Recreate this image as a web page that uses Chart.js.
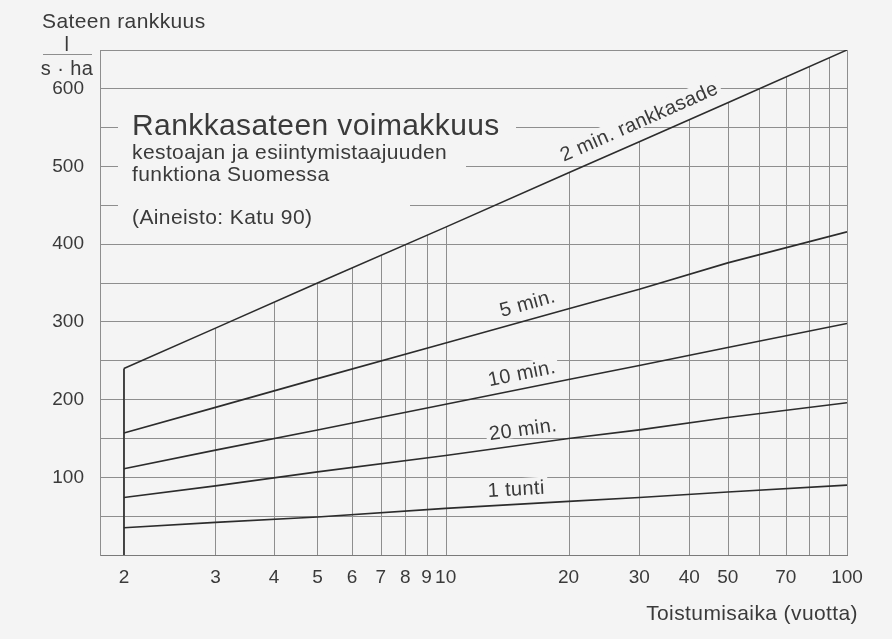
<!DOCTYPE html>
<html>
<head>
<meta charset="utf-8">
<script src="https://cdn.jsdelivr.net/npm/chart.js@4"></script>
<style>
  html, body { margin: 0; padding: 0; background: #f4f4f4; }
  #wrap { width: 892px; height: 639px; }
</style>
</head>
<body>
<div id="wrap"><canvas id="rain" width="892" height="639"></canvas></div>
<script>
// return period (years) and rain intensity (l / s·ha)
const returnPeriods = [2, 3, 5, 10, 20, 30, 50, 100];
const rain2min  = [240, 292, 350, 422, 492, 532, 582, 650];
const rain5min  = [157, 190, 227, 273, 317, 342, 376, 416];
const rain10min = [111, 135, 161, 194, 226, 244, 267, 298];
const rain20min = [74, 89, 107, 128, 150, 161, 177, 196];
const rain1h    = [35, 42, 49, 60, 69, 74, 81, 90];
const seriesNames = ['2 min.', '5 min.', '10 min.', '20 min.', '1 tunti'];

const gridPeriods = [2, 3, 4, 5, 6, 7, 8, 9, 10, 20, 30, 40, 50, 60, 70, 80, 90, 100];
const xTickLabels = [2, 3, 4, 5, 6, 7, 8, 9, 10, 20, 30, 40, 50, 70, 100];
const yTickLabels = [100, 200, 300, 400, 500, 600];

const BG = '#f4f4f4';
const INK = '#3a3a3a';
const LINE = '#2c2c2c';
const GRID = '#8e8e8e';
const FONT = '"Liberation Sans", Arial, sans-serif';

// the time axis is drawn on Gumbel (extreme value) paper
const gumbel = T => -Math.log(-Math.log(1 - 1 / T));

// labels written along the curves: series index, return period where the text starts, lift above line
const curveLabels = [
  { text: '2 min. rankkasade', series: 0, at: 20, lift: 12 },
  { text: '5 min.', series: 1, at: 13.9, lift: 10 },
  { text: '10 min.', series: 2, at: 12.9, lift: 9 },
  { text: '20 min.', series: 3, at: 12.9, lift: 9 },
  { text: '1 tunti', series: 4, at: 12.7, lift: 9 },
];

const titleLines = [
  { text: 'Rankkasateen voimakkuus', size: 30, y: 135 },
  { text: 'kestoajan ja esiintymistaajuuden', size: 21, y: 159 },
  { text: 'funktiona Suomessa', size: 21, y: 181 },
  { text: '(Aineisto: Katu 90)', size: 21, y: 224 },
];
// gaps cut into the horizontal grid by the title block
const titleMasks = [
  [118, 108, 516, 146],
  [118, 146, 466, 190],
  [118, 190, 410, 232],
];

function toPoints(values) {
  return returnPeriods.map((T, i) => ({ x: gumbel(T), y: values[i] }));
}

function curveAt(points, px) {
  for (let i = 0; i < points.length - 1; i++) {
    const a = points[i], b = points[i + 1];
    if (px >= a.x && px <= b.x) {
      const t = (px - a.x) / (b.x - a.x);
      return { y: a.y + t * (b.y - a.y), angle: Math.atan2(b.y - a.y, b.x - a.x) };
    }
  }
  const a = points[points.length - 2], b = points[points.length - 1];
  return { y: b.y, angle: Math.atan2(b.y - a.y, b.x - a.x) };
}

const paperPlugin = {
  id: 'paper',
  beforeDatasetsDraw(chart) {
    const { ctx, chartArea: area, scales } = chart;
    const xs = scales.x;
    const top = chart.getDatasetMeta(0).data;

    // vertical grid only below the 2 min curve
    ctx.save();
    ctx.beginPath();
    ctx.moveTo(top[0].x, area.bottom);
    top.forEach(p => ctx.lineTo(p.x, p.y));
    ctx.lineTo(top[top.length - 1].x, area.bottom);
    ctx.closePath();
    ctx.clip();
    ctx.strokeStyle = GRID;
    ctx.lineWidth = 1;
    gridPeriods.forEach(T => {
      const px = Math.round(xs.getPixelForValue(gumbel(T))) + 0.5;
      ctx.beginPath();
      ctx.moveTo(px, area.top);
      ctx.lineTo(px, area.bottom);
      ctx.stroke();
    });
    ctx.restore();

    // right frame
    ctx.save();
    ctx.strokeStyle = GRID;
    ctx.lineWidth = 1;
    ctx.beginPath();
    ctx.moveTo(Math.round(area.right) + 0.5, area.top);
    ctx.lineTo(Math.round(area.right) + 0.5, area.bottom);
    ctx.stroke();

    // title block
    ctx.letterSpacing = '0.4px';
    ctx.fillStyle = BG;
    titleMasks.forEach(([x1, y1, x2, y2]) => ctx.fillRect(x1, y1, x2 - x1, y2 - y1));
    ctx.fillStyle = INK;
    ctx.textAlign = 'left';
    ctx.textBaseline = 'alphabetic';
    titleLines.forEach(l => {
      ctx.font = l.size + 'px ' + FONT;
      ctx.fillText(l.text, 132, l.y);
    });

    // curve labels
    ctx.font = '20px ' + FONT;
    curveLabels.forEach(l => {
      const pts = chart.getDatasetMeta(l.series).data;
      const px = xs.getPixelForValue(gumbel(l.at));
      const c = curveAt(pts, px);
      const w = ctx.measureText(l.text).width;
      ctx.save();
      ctx.translate(px, c.y);
      ctx.rotate(c.angle);
      ctx.fillStyle = BG;
      ctx.fillRect(-3, -l.lift - 17, w + 6, 18);
      ctx.fillStyle = INK;
      ctx.fillText(l.text, 0, -l.lift);
      ctx.restore();
    });

    // axis titles
    ctx.font = '21px ' + FONT;
    ctx.fillText('Sateen rankkuus', 42, 28);
    ctx.textAlign = 'right';
    ctx.fillText('Toistumisaika (vuotta)', 858, 620);
    ctx.font = '20px ' + FONT;
    ctx.textAlign = 'center';
    ctx.fillText('l', 67, 51);
    ctx.fillText('s · ha', 67, 75);
    ctx.beginPath();
    ctx.moveTo(43, 54.5);
    ctx.lineTo(92, 54.5);
    ctx.stroke();
    ctx.restore();
  },
  afterDatasetsDraw(chart) {
    // the 2 min curve drops to the axis at its first point
    const { ctx, chartArea: area } = chart;
    const p = chart.getDatasetMeta(0).data[0];
    ctx.save();
    ctx.strokeStyle = LINE;
    ctx.lineWidth = 1.6;
    ctx.beginPath();
    ctx.moveTo(p.x, p.y);
    ctx.lineTo(p.x, area.bottom);
    ctx.stroke();
    ctx.restore();
  }
};

Chart.defaults.font.family = FONT;
Chart.defaults.color = INK;

const allSeries = [rain2min, rain5min, rain10min, rain20min, rain1h];

new Chart(document.getElementById('rain'), {
  type: 'line',
  data: {
    datasets: allSeries.map((values, i) => ({
      label: seriesNames[i],
      data: toPoints(values),
      borderColor: LINE,
      borderWidth: 1.6,
      pointRadius: 0,
      tension: 0,
      fill: false,
    }))
  },
  options: {
    responsive: false,
    animation: false,
    layout: { padding: { top: 50, right: 45, bottom: 0, left: 0 } },
    plugins: { legend: { display: false }, tooltip: { enabled: false } },
    scales: {
      x: {
        type: 'linear',
        min: gumbel(2) - 0.14,
        max: gumbel(100),
        afterFit: s => { s.height = 84; },
        afterBuildTicks: s => { s.ticks = xTickLabels.map(T => ({ value: gumbel(T) })); },
        grid: { display: false, drawTicks: false },
        border: { display: true, color: '#7a7a7a', width: 1 },
        ticks: {
          autoSkip: false,
          maxRotation: 0,
          padding: 11,
          font: { size: 19 },
          color: INK,
          callback: (v, i) => xTickLabels[i]
        }
      },
      y: {
        min: 0,
        max: 650,
        afterFit: s => { s.width = 100; },
        grid: { color: GRID, lineWidth: 1, drawTicks: false },
        border: { display: true, color: GRID, width: 1 },
        ticks: {
          stepSize: 50,
          padding: 16,
          font: { size: 19 },
          color: INK,
          callback: v => yTickLabels.includes(v) ? v : ''
        }
      }
    }
  },
  plugins: [paperPlugin]
});
</script>
</body>
</html>
